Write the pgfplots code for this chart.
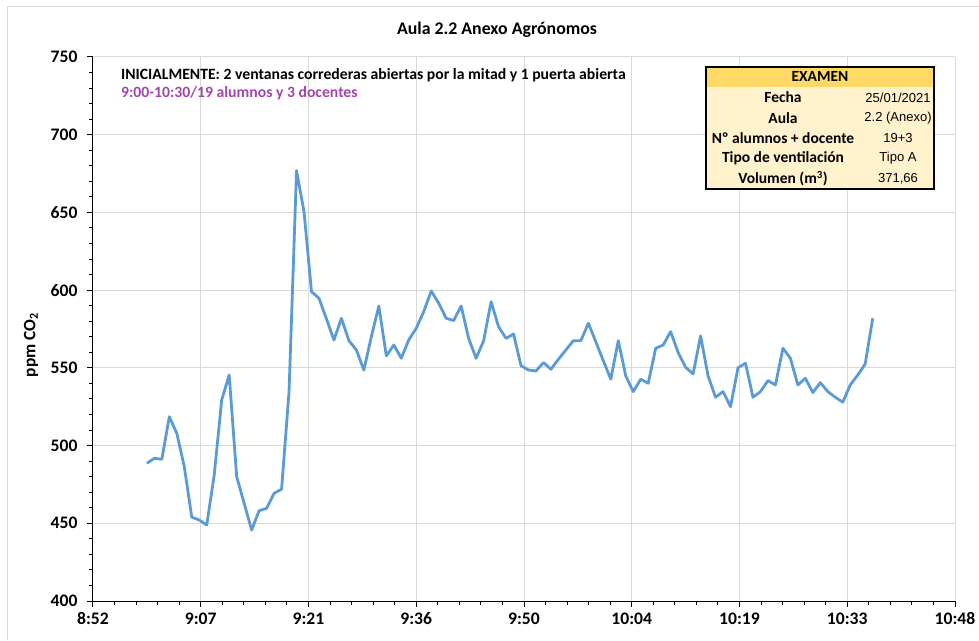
\documentclass[border=0pt]{standalone}
\usepackage{fontspec}
\setmainfont{Carlito}
\newfontfamily\arial{Liberation Sans}
\usepackage{pgfplots}
\pgfplotsset{compat=1.18}
\definecolor{lineblue}{HTML}{5B9BD5}
\definecolor{gridgray}{HTML}{D9D9D9}
\definecolor{hdr}{HTML}{FFD966}
\definecolor{body}{HTML}{FFF2CC}
\definecolor{purp}{RGB}{160,70,170}
\begin{document}
\begin{tikzpicture}
\begin{axis}[
  at={(0,0)}, anchor=south west,
  scale only axis, width=862pt, height=544pt,
  xmin=532.8, xmax=648, ymin=400, ymax=750,
  axis lines*=left,
  axis line style={black, line width=1pt},
  xtick={532.8,547.2,561.6,576,590.4,604.8,619.2,633.6,648},
  xticklabels={8:52,9:07,9:21,9:36,9:50,10:04,10:19,10:33,10:48},
  ytick={400,450,...,750},
  minor x tick num=4, minor y tick num=4,
  tick align=outside,
  major tick length=6pt, minor tick length=4pt,
  tick style={black, line width=1pt},
  grid=major,
  major grid style={gridgray, line width=1pt},
  /pgf/number format/assume math mode=true,
  ticklabel style={font=\bfseries\fontsize{17.6}{20}\selectfont},
  yticklabel style={xshift=-6pt},
  xticklabel style={yshift=-2pt},
  clip=false,
]
\addplot[lineblue, line width=2.8pt, line join=round] table[x expr=\coordindex+540, y=v] {
v
488.6
491.8
491.2
518.6
507.9
486.4
453.9
452.1
448.9
481.1
529.3
545.4
480.0
462.9
445.7
458.1
459.6
469.3
471.9
534.7
676.9
650.5
599.0
594.8
581.5
567.9
581.9
567.5
561.5
548.6
570.1
589.8
557.7
564.7
556.2
568.0
575.5
586.2
599.5
591.6
581.9
580.4
589.8
569.0
556.2
567.3
592.6
576.5
569.0
571.8
551.4
548.6
548.0
553.4
549.1
555.5
561.5
567.5
567.5
578.7
566.7
554.6
542.7
567.5
544.8
534.7
542.7
540.1
562.6
564.7
573.3
559.8
550.4
546.1
570.5
544.8
531.1
534.7
525.0
550.1
553.0
531.1
534.7
541.8
539.0
562.6
556.2
539.0
543.3
534.1
540.5
534.7
531.1
527.9
539.0
545.4
552.5
581.9
};
\end{axis}
\begin{scope}[shift={(-93pt,601pt)}, x=1pt, y=-1pt]
  % chart area border
  \draw[gridgray, line width=1pt] (8,640) -- (8,7) -- (979,7);
  % title
  \node[font=\bfseries\fontsize{17.8}{20}\selectfont] at (497,30) {Aula 2.2 Anexo Agrónomos};
  % y label
  \node[rotate=90, font=\bfseries\fontsize{17.4}{20}\selectfont] at (31,345) {ppm CO\textsubscript{2}};
  % annotations
  \node[anchor=west, inner sep=0pt, font=\bfseries\fontsize{15.7}{18}\selectfont] at (121,75) {INICIALMENTE: 2 ventanas correderas abiertas por la mitad y 1 puerta abierta};
  \node[anchor=west, inner sep=0pt, text=purp, font=\bfseries\fontsize{15.7}{18}\selectfont] at (121,93) {9:00-10:30/19 alumnos y 3 docentes};
  % table
  \fill[hdr] (706,67) rectangle (934,87);
  \fill[body] (706,87) rectangle (934,189);
  \draw[black, line width=1.6pt] (706,67) rectangle (934,189);
  \node[font=\bfseries\fontsize{15.5}{18}\selectfont] at (820,76.5) {EXAMEN};
  \begin{scope}[every node/.style={font=\bfseries\fontsize{15.5}{18}\selectfont}]
    \node at (783,97.5) {Fecha};
    \node at (783,118) {Aula};
    \node at (783,138) {Nº alumnos + docente};
    \node at (783,158) {Tipo de ventilación};
    \node at (783,178.5) {Volumen (m\textsuperscript{3})};
  \end{scope}
  \begin{scope}[every node/.style={font=\arial\fontsize{13}{16}\selectfont}]
    \node at (898,97.5) {25/01/2021};
    \node at (898,118) {2.2 (Anexo)};
    \node at (898,138) {19+3};
    \node at (898,158) {Tipo A};
    \node at (898,178.5) {371,66};
  \end{scope}
  \pgfresetboundingbox
  \path (0,0) rectangle (979,640);
\end{scope}
\end{tikzpicture}
\end{document}
